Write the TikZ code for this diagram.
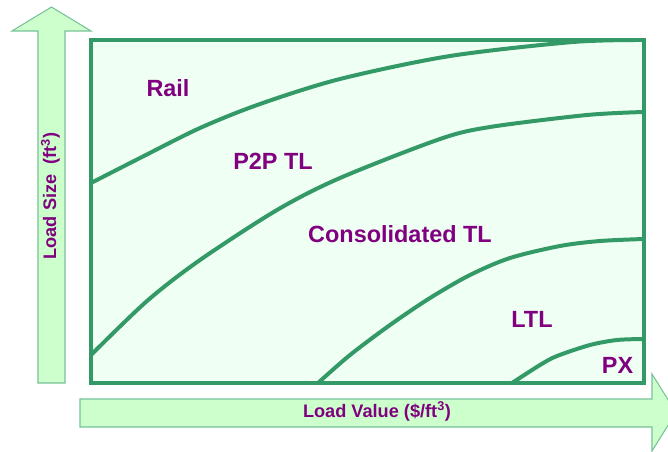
\documentclass[tikz,border=0pt]{standalone}
\usepackage{fontspec}
\setmainfont{Liberation Sans}
\definecolor{zonegreen}{HTML}{339966}
\definecolor{zonefill}{HTML}{F0FFF4}
\definecolor{axisfill}{HTML}{CCFFCC}
\definecolor{axisline}{HTML}{77C299}
\definecolor{modepurple}{HTML}{800080}
\tikzset{
  axisarrow/.style={fill=axisfill,draw=axisline,line width=0.9pt,line join=miter},
  zoneline/.style={draw=zonegreen,line width=3.4pt},
  modelabel/.style={text=modepurple,font=\fontsize{20}{24}\selectfont\bfseries,anchor=base,inner sep=0pt},
  axislabel/.style={text=modepurple,font=\fontsize{15.5}{18}\selectfont\bfseries,anchor=base,inner sep=0pt}
}

\begin{document}
\begin{tikzpicture}[x=0.03cm,y=-0.03cm]
\useasboundingbox (0,0) rectangle (668,452);
% axes
\draw[axisarrow] (38,383) -- (38,31) -- (12,31) -- (51.5,7) -- (91,31) -- (65,31) -- (65,383) -- cycle;
\draw[axisarrow] (80,399) -- (652,399) -- (652,374) -- (676,412.5) -- (652,451) -- (652,427) -- (80,427) -- cycle;
\node[axislabel,rotate=90] (size) at (56,196) {Load Size~ (ft\textsuperscript{3})};
\node[axislabel] (value) at (377,417) {Load Value (\$/ft\textsuperscript{3})};

% regions
\fill[zonefill] (91,40) rectangle (644,383);
\draw[zoneline] plot[smooth,tension=0.5] coordinates {(91,183) (140,158) (200,128) (260,104) (340,79) (450,56) (573,42) (644,40)};
\draw[zoneline] plot[smooth,tension=0.5] coordinates {(91,355) (147,301) (200,260) (277,210) (340,178) (440,139) (490,127) (587,115) (644,112)};
\draw[zoneline] plot[smooth,tension=0.5] coordinates {(318,383) (350,355) (390,325) (430,298) (470,275) (510,258) (560,246) (600,241) (644,239)};
\draw[zoneline] plot[smooth,tension=0.5] coordinates {(512,383) (540,365) (557,356) (590,345) (617,340) (644,339)};
\draw[zoneline] (91,40) rectangle (644,383);

\node[modelabel] (rail) at (168,97) {Rail};
\node[modelabel] (p2p) at (273,170) {P2P TL};
\node[modelabel] (ctl) at (400,242) {Consolidated TL};
\node[modelabel] (ltl) at (532,327) {LTL};
\node[modelabel] (px) at (617.5,373) {PX};
\end{tikzpicture}
\end{document}
